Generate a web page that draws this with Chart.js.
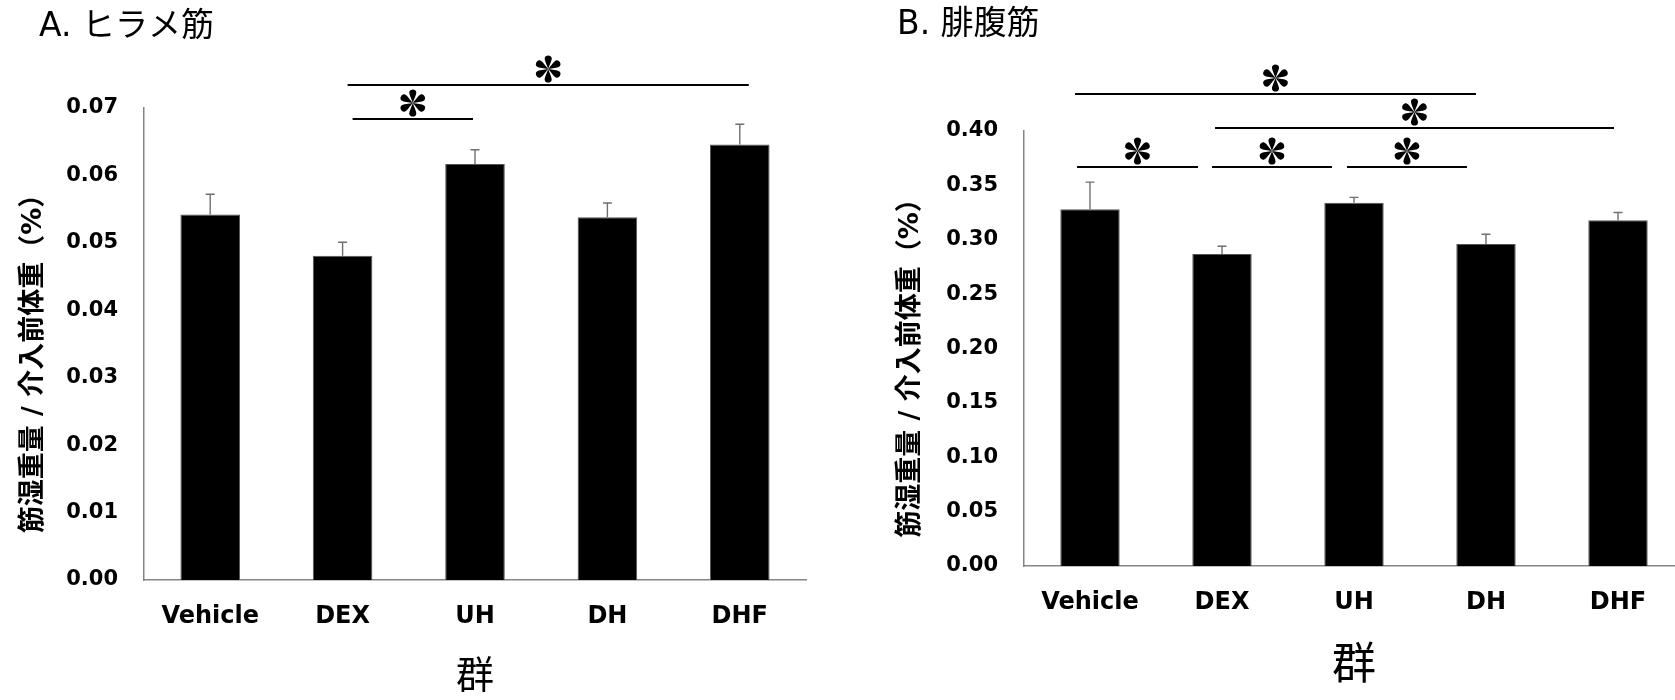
<!DOCTYPE html>
<html>
<head>
<meta charset="utf-8">
<script src="https://cdn.jsdelivr.net/npm/chart.js@4"></script>
<style>
  html, body { margin: 0; padding: 0; background: #fff; overflow: hidden; }
  #wrap { position: relative; width: 1675px; height: 700px; overflow: hidden; }
  canvas { position: absolute; top: 0; }
</style>
</head>
<body>
<div id="wrap">
  <canvas id="soleus" width="840" height="700" style="left:0"></canvas>
  <canvas id="gastro" width="850" height="700" style="left:840px"></canvas>
</div>
<script>
// groups on the x axis
const groups = ["Vehicle", "DEX", "UH", "DH", "DHF"];

// A. soleus: mean and SE
const soleusMean = [0.0542, 0.0481, 0.0617, 0.0538, 0.0646];
const soleusSE = [0.0030, 0.0020, 0.0021, 0.0021, 0.0030];
const soleusTicks = { max: 0.07, step: 0.01 };
// significant pairs [from, to]
const soleusPairs = [[1, 4], [1, 2]];

// B. gastrocnemius: mean and SE
const gastroMean = [0.328, 0.287, 0.334, 0.296, 0.318];
const gastroSE = [0.025, 0.007, 0.005, 0.009, 0.007];
const gastroTicks = { max: 0.40, step: 0.05 };
const gastroPairs = [[0, 3], [1, 4], [0, 1], [1, 2], [2, 3]];

const yTitle = "筋湿重量 / 介入前体重（%）";
const xTitle = "群";

const FONT = "'DejaVu Sans', 'Noto Sans CJK JP', sans-serif";

// draws a six petal asterisk
function drawStar(ctx, cx, cy) {
    ctx.save();
    ctx.translate(cx, cy);
    ctx.fillStyle = "#000";
    for (let k = 0; k < 6; k++) {
        ctx.save();
        ctx.rotate(k * Math.PI / 3);
        ctx.beginPath();
        ctx.moveTo(0, 0);
        ctx.bezierCurveTo(-1.2, -4, -3.8, -8.5, -3.5, -11);
        ctx.bezierCurveTo(-3.2, -14.4, 3.2, -14.4, 3.5, -11);
        ctx.bezierCurveTo(3.8, -8.5, 1.2, -4, 0, 0);
        ctx.fill();
        ctx.restore();
    }
    ctx.restore();
}

// error bars, brackets, y title and panel title
const extras = {
    id: "extras",
    afterDatasetsDraw(chart, args, opts) {
        const ctx = chart.ctx;
        const xs = chart.scales.x, ys = chart.scales.y;
        const meta = chart.getDatasetMeta(0);

        ctx.save();
        ctx.strokeStyle = "#6f6f6f";
        ctx.lineWidth = 1.4;
        meta.data.forEach((bar, i) => {
            const v = chart.data.datasets[0].data[i];
            const top = ys.getPixelForValue(v + opts.se[i]);
            ctx.beginPath();
            ctx.moveTo(bar.x, bar.y);
            ctx.lineTo(bar.x, top);
            ctx.moveTo(bar.x - 4.5, top);
            ctx.lineTo(bar.x + 4.5, top);
            ctx.stroke();
        });
        ctx.restore();

        ctx.save();
        ctx.strokeStyle = "#000";
        ctx.lineWidth = 2;
        opts.pairs.forEach((p, i) => {
            const lay = opts.layout[i];
            const x1 = xs.getPixelForValue(p[0]) + lay[0];
            const x2 = xs.getPixelForValue(p[1]) + lay[1];
            const y = lay[2];
            ctx.beginPath();
            ctx.moveTo(x1, y);
            ctx.lineTo(x2, y);
            ctx.stroke();
            drawStar(ctx, (x1 + x2) / 2, y - 16);
        });
        ctx.restore();

        // rotated y axis title
        const area = chart.chartArea;
        ctx.save();
        ctx.fillStyle = "#000";
        ctx.font = "bold 27px " + FONT;
        ctx.textAlign = "center";
        ctx.textBaseline = "middle";
        ctx.translate(opts.yTitleX, (area.top + area.bottom) / 2 + 13);
        ctx.rotate(-Math.PI / 2);
        ctx.fillText(yTitle, 0, 0);
        ctx.restore();

        ctx.save();
        ctx.fillStyle = "#000";
        ctx.font = "33px " + FONT;
        ctx.textBaseline = "middle";
        ctx.fillText(opts.title, opts.titlePos[0], opts.titlePos[1]);
        ctx.restore();
    }
};

function makeChart(id, mean, cfg) {
    const ctx = document.getElementById(id).getContext("2d");
    return new Chart(ctx, {
        type: "bar",
        data: {
            labels: groups,
            datasets: [{
                data: mean,
                backgroundColor: "#000",
                borderColor: "#555",
                borderWidth: 1,
                barPercentage: 0.45,
                categoryPercentage: 1.0,
            }],
        },
        options: {
            responsive: false,
            animation: false,
            devicePixelRatio: 1,
            layout: { padding: { top: cfg.top, right: cfg.right, left: 0, bottom: 0 } },
            plugins: {
                legend: { display: false },
                title: { display: false },
                tooltip: { enabled: false },
                extras: cfg.extras,
            },
            scales: {
                x: {
                    grid: { display: false, drawTicks: false },
                    border: { display: true, color: "#858585", width: 1.5 },
                    ticks: {
                        color: "#000",
                        padding: 22,
                        font: { family: FONT, size: 24, weight: "bold" },
                    },
                    title: {
                        display: true,
                        text: xTitle,
                        color: "#000",
                        padding: { top: 0, bottom: cfg.xTitlePad },
                        font: { family: FONT, size: cfg.xTitleSize, lineHeight: 1 },
                    },
                    afterFit: (s) => { s.height = cfg.xHeight; },
                },
                y: {
                    min: 0,
                    max: cfg.ticks.max,
                    grid: { display: false, drawTicks: false },
                    border: { display: true, color: "#858585", width: 1.5 },
                    ticks: {
                        stepSize: cfg.ticks.step,
                        color: "#000",
                        padding: 26,
                        font: { family: FONT, size: 21, weight: "bold" },
                        callback: (v) => v.toFixed(2),
                    },
                    afterFit: (s) => { s.width = cfg.yWidth; },
                },
            },
        },
        plugins: [extras],
    });
}

makeChart("soleus", soleusMean, {
    top: 108, right: 34, xHeight: 120, yWidth: 144,
    xTitlePad: 3, xTitleSize: 38,
    ticks: soleusTicks,
    extras: {
        se: soleusSE,
        pairs: soleusPairs,
        layout: [[5, 9, 85], [10, -2, 119]],
        yTitleX: 34,
        title: "A. ヒラメ筋",
        titlePos: [39, 27],
    },
});

makeChart("gastro", gastroMean, {
    top: 131, right: 6, xHeight: 134, yWidth: 184,
    xTitlePad: 10, xTitleSize: 44,
    ticks: gastroTicks,
    extras: {
        se: gastroSE,
        pairs: gastroPairs,
        layout: [[-15, -10, 94], [-7, -4, 128], [-13, -24, 167], [-10, -22, 167], [-7, -19, 167]],
        yTitleX: 71,
        title: "B. 腓腹筋",
        titlePos: [57, 25],
    },
});
</script>
</body>
</html>
